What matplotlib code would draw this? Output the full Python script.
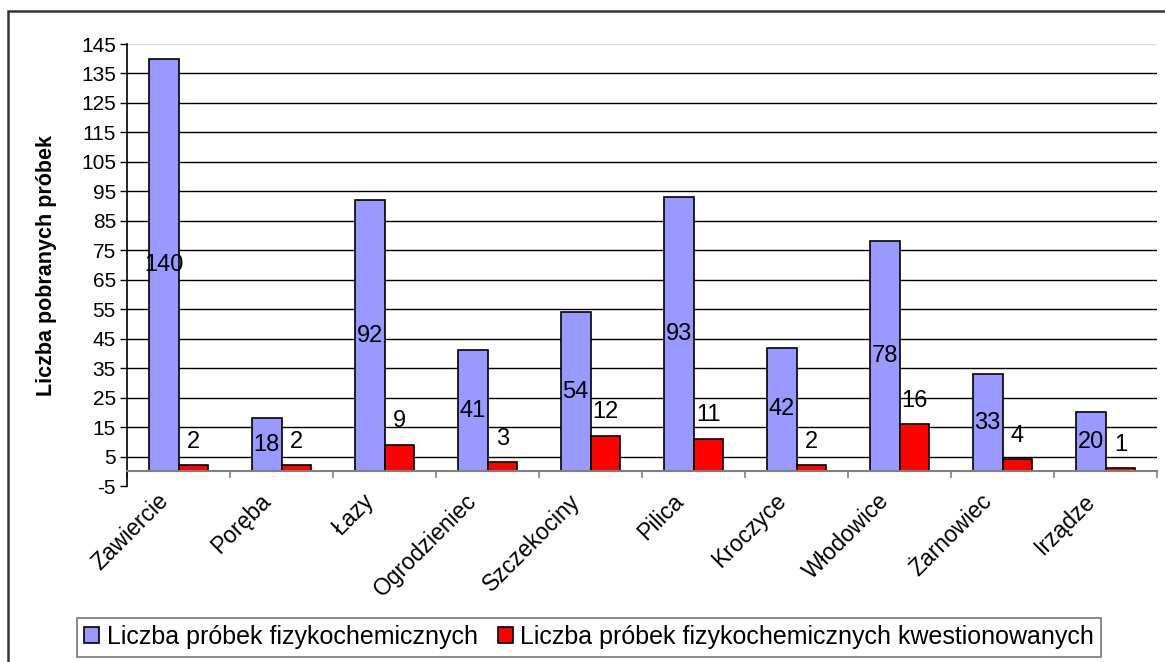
import numpy as np
import matplotlib as mpl
mpl.use('Agg')
import matplotlib.pyplot as plt
from matplotlib.patches import Rectangle

plt.rcParams['font.family'] = ['Liberation Sans', 'DejaVu Sans']
plt.rcParams['axes.unicode_minus'] = False

# ~~~~~~~~~~ Data ~~~~~~~~~~ #
gminy = ['Zawiercie', 'Poręba', 'Łazy', 'Ogrodzieniec', 'Szczekociny',
         'Pilica', 'Kroczyce', 'Włodowice', 'Żarnowiec', 'Irządze']
probki = [140, 18, 92, 41, 54, 93, 42, 78, 33, 20]
kwestionowane = [2, 2, 9, 3, 12, 11, 2, 16, 4, 1]
yticks = [-5, 5, 15, 25, 35, 45, 55, 65, 75, 85, 95, 105, 115, 125, 135, 145]

label1 = 'Liczba próbek fizykochemicznych'
label2 = 'Liczba próbek fizykochemicznych kwestionowanych'

fig = plt.figure(figsize=(11.65, 6.62), dpi=100)
ax = fig.add_axes([127/1165, 1 - 486/662, 1030/1165, 442/662])

x = np.arange(len(gminy))
w = 0.29
b1 = ax.bar(x - w/2, probki, w, color='#9999FF', edgecolor='black', linewidth=1.2,
            label=label1, zorder=3)
b2 = ax.bar(x + w/2, kwestionowane, w, color='#FF0000', edgecolor='black', linewidth=1.2,
            label=label2, zorder=3)

# data labels
for xi, v in zip(x, probki):
    ax.text(xi - w/2, v/2, str(v), ha='center', va='center', fontsize=17, zorder=5)
for xi, v in zip(x, kwestionowane):
    ax.annotate(str(v), xy=(xi + w/2, v), xytext=(0, 17), textcoords='offset points',
                ha='center', va='center', fontsize=17, zorder=5)

ax.set_xlim(-0.5, len(gminy) - 0.5)
ax.set_ylim(-5, 145)
ax.set_yticks(yticks)
ax.tick_params(axis='y', direction='out', length=5, width=1, labelsize=15, pad=3)
ax.grid(axis='y', color='black', linewidth=1, zorder=0)
ax.set_axisbelow(True)
ax.yaxis.get_gridlines()[0].set_visible(False)
ax.yaxis.get_gridlines()[-1].set_color('#dddddd')

for s in ['top', 'right']:
    ax.spines[s].set_visible(False)
ax.spines['left'].set_linewidth(1.2)
ax.spines['bottom'].set_position(('data', 0))
ax.spines['bottom'].set_color('#808080')
ax.spines['bottom'].set_linewidth(1.5)
ax.spines['bottom'].set_zorder(4)
ax.set_xticks(np.arange(-0.5, len(gminy)))
ax.set_xticklabels([])
ax.tick_params(axis='x', direction='out', length=5, width=1.2, color='#808080')

for xi, name in zip(x, gminy):
    ax.annotate(name, xy=(xi, 0), xytext=(-10, -19), textcoords='offset points',
                ha='right', va='center', rotation=45, rotation_mode='anchor',
                fontsize=16.5, annotation_clip=False)

ax.set_ylabel('Liczba pobranych próbek', fontsize=15.5, fontweight='bold')
ax.yaxis.set_label_coords(-0.068, 0.5)

leg = fig.legend(handles=[b1, b2], loc='center', bbox_to_anchor=(589/1165, 1 - 637/662),
                 ncol=2, fontsize=18, frameon=True, fancybox=False, edgecolor='#555555',
                 handlelength=0.6, handleheight=0.6, handletextpad=0.3, columnspacing=0.8,
                 borderpad=0.3, borderaxespad=0)
leg.get_frame().set_linewidth(1.2)

fig.patches.append(Rectangle((8/1165, -0.05), 1.2, 1 - 11/662 + 0.05, fill=False,
                             edgecolor='#333333', linewidth=1.8,
                             transform=fig.transFigure, figure=fig))

fig.savefig('out.png', dpi=100)
